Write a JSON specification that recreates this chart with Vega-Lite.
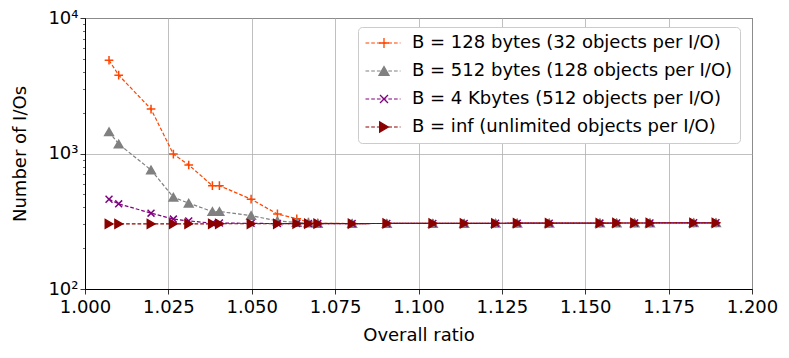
{
  "$schema": "https://vega.github.io/schema/vega-lite/v6.json",
  "width": 667,
  "height": 271,
  "autosize": {"type": "none"},
  "padding": {"left": 85, "top": 18, "right": 37, "bottom": 69},
  "config": {
    "font": "DejaVu Sans",
    "view": {"stroke": "#000", "strokeWidth": 1},
    "axis": {
      "labelFont": "DejaVu Sans", "titleFont": "DejaVu Sans",
      "labelFontSize": 18, "titleFontSize": 18, "titleFontWeight": "normal",
      "labelColor": "#000", "titleColor": "#000", "tickColor": "#000", "domainColor": "#000",
      "gridColor": "#b0b0b0", "gridWidth": 0.8, "tickSize": 5, "tickWidth": 0.8, "domainWidth": 1,
      "labelFlush": false
    },
    "legend": {
      "orient": "none", "legendX": 273, "legendY": 9,
      "labelFont": "DejaVu Sans", "labelFontSize": 18, "labelColor": "#000", "labelLimit": 500,
      "padding": 7, "rowPadding": 10
    }
  },
  "data": {"values": [
    {"s":"128","x":1.0072,"y":4880},{"s":"128","x":1.0101,"y":3785},{"s":"128","x":1.0198,"y":2127},{"s":"128","x":1.0265,"y":990},{"s":"128","x":1.0311,"y":823},{"s":"128","x":1.0382,"y":579},{"s":"128","x":1.0403,"y":579},{"s":"128","x":1.0498,"y":460},{"s":"128","x":1.0577,"y":358},{"s":"128","x":1.0635,"y":330},{"s":"128","x":1.067,"y":312},{"s":"128","x":1.0698,"y":306},{"s":"128","x":1.0801,"y":304},{"s":"128","x":1.0905,"y":304.5},{"s":"128","x":1.1043,"y":305},{"s":"128","x":1.1137,"y":305},{"s":"128","x":1.1231,"y":305.5},{"s":"128","x":1.1296,"y":306},{"s":"128","x":1.1392,"y":306},{"s":"128","x":1.1544,"y":306.5},{"s":"128","x":1.1594,"y":307},{"s":"128","x":1.1648,"y":307},{"s":"128","x":1.1694,"y":307},{"s":"128","x":1.1825,"y":308},{"s":"128","x":1.1892,"y":308},
    {"s":"512","x":1.0072,"y":1446},{"s":"512","x":1.0101,"y":1175},{"s":"512","x":1.0198,"y":756},{"s":"512","x":1.0265,"y":476},{"s":"512","x":1.0311,"y":430},{"s":"512","x":1.0382,"y":373},{"s":"512","x":1.0403,"y":373},{"s":"512","x":1.0498,"y":348},{"s":"512","x":1.0577,"y":318},{"s":"512","x":1.0635,"y":310},{"s":"512","x":1.067,"y":307},{"s":"512","x":1.0698,"y":305},{"s":"512","x":1.0801,"y":304},{"s":"512","x":1.0905,"y":304.5},{"s":"512","x":1.1043,"y":305},{"s":"512","x":1.1137,"y":305},{"s":"512","x":1.1231,"y":305.5},{"s":"512","x":1.1296,"y":306},{"s":"512","x":1.1392,"y":306},{"s":"512","x":1.1544,"y":306.5},{"s":"512","x":1.1594,"y":307},{"s":"512","x":1.1648,"y":307},{"s":"512","x":1.1694,"y":307},{"s":"512","x":1.1825,"y":308},{"s":"512","x":1.1892,"y":308},
    {"s":"4K","x":1.0072,"y":460},{"s":"4K","x":1.0101,"y":425},{"s":"4K","x":1.0198,"y":363},{"s":"4K","x":1.0265,"y":328},{"s":"4K","x":1.0311,"y":318},{"s":"4K","x":1.0382,"y":306},{"s":"4K","x":1.0403,"y":307},{"s":"4K","x":1.0498,"y":305},{"s":"4K","x":1.0577,"y":304},{"s":"4K","x":1.0635,"y":304},{"s":"4K","x":1.067,"y":304},{"s":"4K","x":1.0698,"y":304},{"s":"4K","x":1.0801,"y":304},{"s":"4K","x":1.0905,"y":304.5},{"s":"4K","x":1.1043,"y":305},{"s":"4K","x":1.1137,"y":305},{"s":"4K","x":1.1231,"y":305.5},{"s":"4K","x":1.1296,"y":306},{"s":"4K","x":1.1392,"y":306},{"s":"4K","x":1.1544,"y":306.5},{"s":"4K","x":1.1594,"y":307},{"s":"4K","x":1.1648,"y":307},{"s":"4K","x":1.1694,"y":307},{"s":"4K","x":1.1825,"y":308},{"s":"4K","x":1.1892,"y":308},
    {"s":"inf","x":1.0072,"y":302},{"s":"inf","x":1.0101,"y":302},{"s":"inf","x":1.0198,"y":302},{"s":"inf","x":1.0265,"y":302.5},{"s":"inf","x":1.0311,"y":302.5},{"s":"inf","x":1.0382,"y":303},{"s":"inf","x":1.0403,"y":303},{"s":"inf","x":1.0498,"y":303},{"s":"inf","x":1.0577,"y":303},{"s":"inf","x":1.0635,"y":303.5},{"s":"inf","x":1.067,"y":303.5},{"s":"inf","x":1.0698,"y":303.5},{"s":"inf","x":1.0801,"y":304},{"s":"inf","x":1.0905,"y":304.5},{"s":"inf","x":1.1043,"y":305},{"s":"inf","x":1.1137,"y":305},{"s":"inf","x":1.1231,"y":305.5},{"s":"inf","x":1.1296,"y":306},{"s":"inf","x":1.1392,"y":306},{"s":"inf","x":1.1544,"y":306.5},{"s":"inf","x":1.1594,"y":307},{"s":"inf","x":1.1648,"y":307},{"s":"inf","x":1.1694,"y":307},{"s":"inf","x":1.1825,"y":308},{"s":"inf","x":1.1892,"y":308}
  ]},
  "layer": [
    {
      "mark": {"type": "line", "strokeDash": [3.7, 2], "strokeWidth": 1.2},
      "encoding": {
        "x": {"field": "x", "type": "quantitative",
              "scale": {"domain": [1.0, 1.2], "nice": false, "zero": false},
              "axis": {"values": [1.0, 1.025, 1.05, 1.075, 1.1, 1.125, 1.15, 1.175, 1.2], "format": ".3f",
                       "title": "Overall ratio", "grid": true, "labelPadding": 4, "titlePadding": 10, "labelFlush": false}},
        "y": {"field": "y", "type": "quantitative",
              "scale": {"type": "log", "domain": [100, 10000], "nice": false},
              "axis": {"values": [100, 1000, 10000], "grid": true, "title": "Number of I/Os", "titlePadding": 18,
                       "labelExpr": "datum.value < 500 ? '10²' : datum.value < 5000 ? '10³' : '10⁴'"}},
        "stroke": {"field": "s", "type": "nominal", "title": null,
                   "scale": {"domain": ["128", "512", "4K", "inf"], "range": ["#ff4500", "#808080", "#800080", "#8b0000"]},
                   "legend": {
                     "labelExpr": "datum.value == '128' ? 'B = 128 bytes (32 objects per I/O)' : datum.value == '512' ? 'B = 512 bytes (128 objects per I/O)' : datum.value == '4K' ? 'B = 4 Kbytes (512 objects per I/O)' : 'B = inf (unlimited objects per I/O)'",
                     "symbolType": "M-3.5,0H3.5", "symbolSize": 100, "symbolDash": [3.7, 2], "symbolStrokeWidth": 1.2,
                     "symbolOffset": 9, "labelOffset": 20,
                     "strokeColor": "#cccccc", "fillColor": "#ffffff", "cornerRadius": 4
                   }}
      }
    },
    {
      "mark": {"type": "point", "filled": true, "opacity": 1, "strokeWidth": 1.5, "size": 75},
      "encoding": {
        "x": {"field": "x", "type": "quantitative"},
        "y": {"field": "y", "type": "quantitative",
              "axis": {"orient": "left", "values": [200, 300, 400, 500, 600, 700, 800, 900, 2000, 3000, 4000, 5000, 6000, 7000, 8000, 9000],
                       "labels": false, "grid": false, "domain": false, "tickSize": 2.5, "tickWidth": 0.6, "title": null}},
        "stroke": {"field": "s", "type": "nominal", "title": null,
                   "legend": {"labelExpr": "''", "strokeColor": "transparent", "fillColor": "transparent", "symbolStrokeWidth": 1.3, "symbolOffset": 10, "labelOffset": 12}},
        "fill": {"field": "s", "type": "nominal", "title": null,
                 "scale": {"domain": ["128", "512", "4K", "inf"], "range": ["#ff4500", "#808080", "#800080", "#8b0000"]},
                 "legend": {"labelExpr": "''", "strokeColor": "transparent", "fillColor": "transparent", "symbolStrokeWidth": 1.3, "symbolOffset": 10, "labelOffset": 12}},
        "shape": {"field": "s", "type": "nominal", "title": null,
                  "scale": {"domain": ["128", "512", "4K", "inf"],
                            "range": ["M-1,0H1M0,-1V1", "triangle-up", "M-0.8,-0.8L0.8,0.8M-0.8,0.8L0.8,-0.8", "triangle-right"]},
                  "legend": {"labelExpr": "''", "strokeColor": "transparent", "fillColor": "transparent", "symbolStrokeWidth": 1.3, "symbolOffset": 10, "labelOffset": 12}}
      }
    }
  ],
  "resolve": {"axis": {"y": "independent"}, "legend": {"stroke": "independent", "fill": "independent", "shape": "independent"}}
}
